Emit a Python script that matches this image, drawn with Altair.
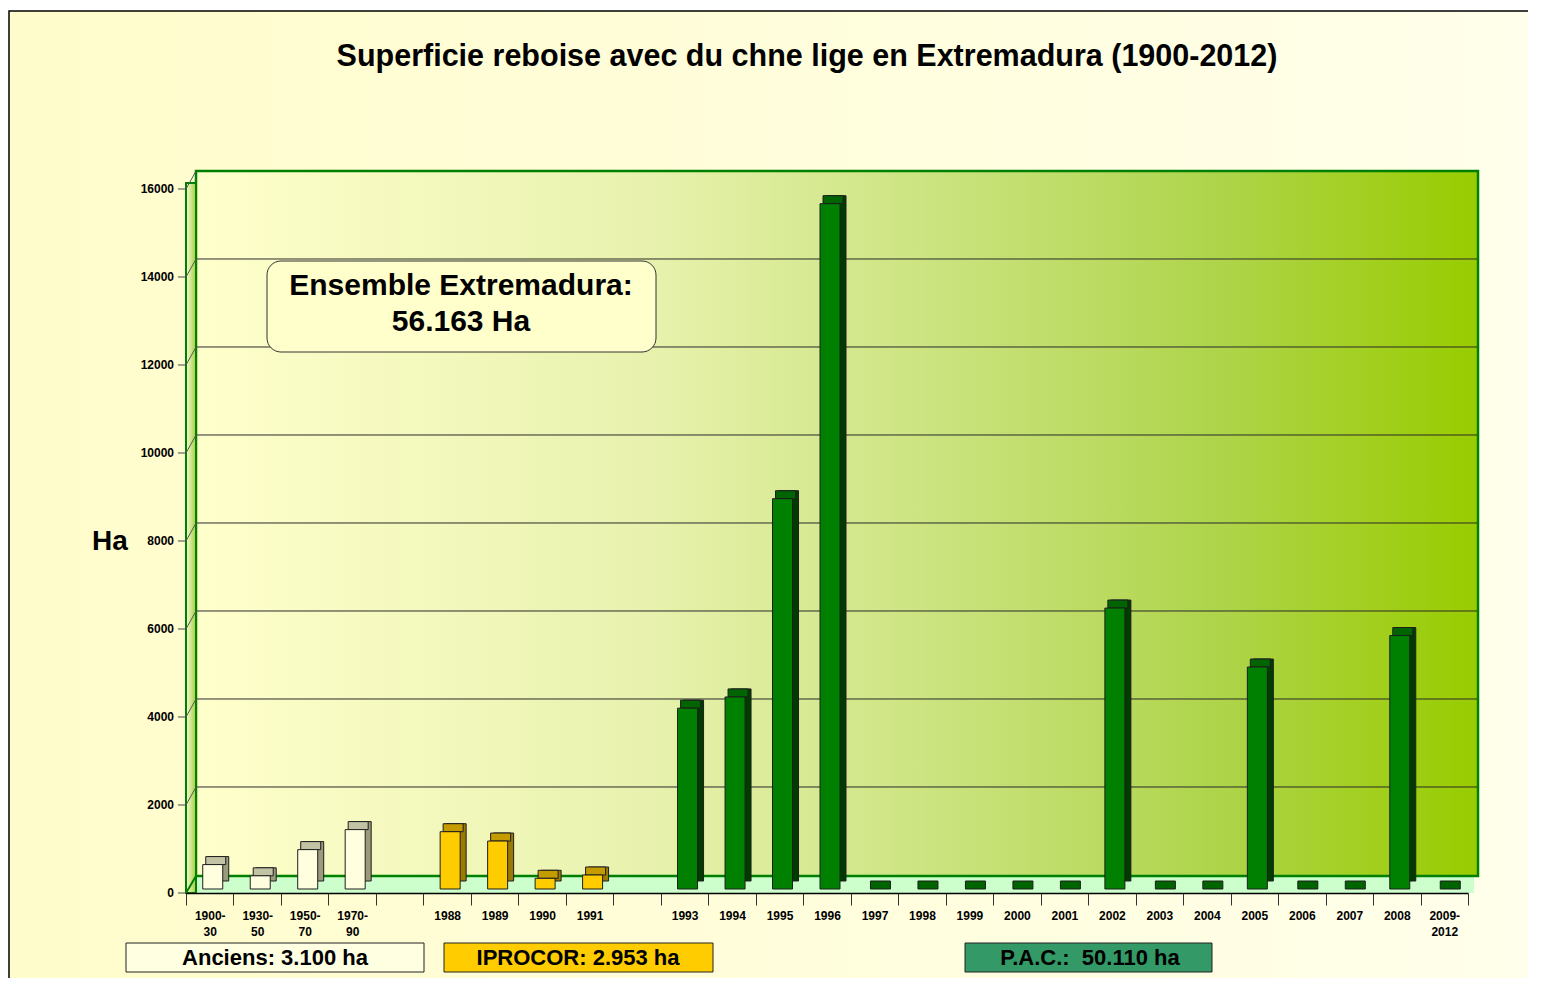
import altair as alt
import pandas as pd

FONT = "Liberation Sans"

# ---------------- data ----------------
categories = ["1900-30", "1930-50", "1950-70", "1970-90", " ",
              "1988", "1989", "1990", "1991", "  ",
              "1993", "1994", "1995", "1996", "1997", "1998", "1999", "2000",
              "2001", "2002", "2003", "2004", "2005", "2006", "2007", "2008",
              "2009-2012"]
values = [555, 300, 895, 1350, None,
          1302, 1090, 243, 318, None,
          4110, 4365, 8870, 15575, 0, 0, 0, 0,
          0, 6385, 0, 0, 5045, 0, 0, 5760,
          0]
groups = ["Anciens"] * 4 + [""] + ["IPROCOR"] * 4 + [""] + ["PAC"] * 17
group_names = ["Anciens", "IPROCOR", "PAC"]
y_ticks = [0, 2000, 4000, 6000, 8000, 10000, 12000, 14000, 16000]
y_title = "Ha"

title_text = "Superficie reboise avec du chne lige en Extremadura (1900-2012)"
note_lines = ["Ensemble Extremadura:", "56.163 Ha"]
legend_texts = ["Anciens: 3.100 ha", "IPROCOR: 2.953 ha", "P.A.C.: \u00a050.110 ha"]

# ---------------- styles ----------------
front_colors = ["#FFFFE0", "#FFCC00", "#008000"]
side_colors = ["#9A9A7C", "#9A7A00", "#003C00"]
top_colors = ["#C2C2A4", "#C49C00", "#006400"]
legend_fills = ["#FFFFE2", "#FFCC00", "#339966"]

df = pd.DataFrame({"cat": categories, "value": values, "group": groups})
bars_df = df[df["group"] != ""].copy()

one = alt.Data(values=[{"k": 1}])

W, H = 1282, 722
YMAX = 16409
yscale = alt.Scale(domain=[0, YMAX], nice=False, zero=True)
xscale = alt.Scale(domain=categories, paddingInner=0, paddingOuter=0)

label_expr = ("indexof(datum.label,'-') > 0 ? "
              "[slice(datum.label,0,indexof(datum.label,'-')+1), "
              "slice(datum.label,indexof(datum.label,'-')+1)] : datum.label")

xaxis = alt.Axis(labelExpr=label_expr, labelAngle=0, labelFont=FONT,
                 labelFontSize=12, labelFontWeight="bold", labelColor="black",
                 labelLineHeight=16, labelPadding=5, tickBand="extent",
                 tickSize=12, tickColor="#333333", domainColor="black",
                 domainWidth=1.5, title=None, grid=False, zindex=2)


def grad(stops, x2=1, y2=0):
    return alt.Gradient(gradient="linear", x1=0, y1=0, x2=x2, y2=y2,
                        stops=[alt.GradientStop(color=c, offset=o) for o, c in stops])


frame = alt.Chart(one).mark_rect(
    fill=grad([(0, "#FFFCCB"), (1, "#FFFFEC")]), stroke="black", strokeWidth=1.5
).encode(x=alt.value(-177), x2=alt.value(1400), y=alt.value(-160), y2=alt.value(900))

floor = alt.Chart(one).mark_rect(fill="#CCFFCC").encode(
    x=alt.value(0), x2=alt.value(1288), y=alt.value(705), y2=alt.value(722))

wall = alt.Chart(one).mark_rect(
    fill=grad([(0, "#FFFFCC"), (0.35, "#E8F2AE"), (0.6, "#C8E27A"),
               (0.8, "#AED44A"), (1, "#99CC00")]),
    stroke="#008000", strokeWidth=2.5
).encode(x=alt.value(10), x2=alt.value(1292), y=alt.value(0), y2=alt.value(705))

left_wall = alt.Chart(one).mark_rect(
    fill=grad([(0, "#F8FCD8"), (1, "#A6CE3C")]), stroke="#008000", strokeWidth=2
).encode(x=alt.value(0), x2=alt.value(10), y=alt.value(12), y2=alt.value(722))

tick_df = pd.DataFrame({"v": y_ticks})

grid = alt.Chart(tick_df[(tick_df.v > 0) & (tick_df.v < 16000)]).mark_rule(
    color="#2A2A2A", strokeWidth=1, yOffset=-18
).encode(x=alt.value(11), x2=alt.value(1291),
         y=alt.Y("v:Q", scale=yscale, axis=None))

diag = alt.Chart(tick_df[tick_df.v > 0]).mark_rule(
    color="#555555", strokeWidth=1, y2Offset=-18
).encode(x=alt.value(0), x2=alt.value(10),
         y=alt.Y("v:Q", scale=yscale, axis=None), y2="v:Q")

# y axis drawn from the tick values through the y scale
y_ticks_marks = alt.Chart(tick_df).mark_rule(color="#444444", strokeWidth=1).encode(
    x=alt.value(-8), x2=alt.value(0), y=alt.Y("v:Q", scale=yscale, axis=None))
y_labels = alt.Chart(tick_df).mark_text(
    font=FONT, fontSize=12, fontWeight="bold", color="black",
    align="right", baseline="middle", dx=-12
).encode(x=alt.value(0), y=alt.Y("v:Q", scale=yscale, axis=None), text="v:Q")
y_title_mark = alt.Chart(one).mark_text(
    text=y_title, font=FONT, fontSize=28, fontWeight="bold", color="black",
    align="center", baseline="middle"
).encode(x=alt.value(-76), y=alt.value(371))

floor_edge = alt.Chart(one).mark_rule(color="#008000", strokeWidth=2).encode(
    x=alt.value(0), x2=alt.value(10), y=alt.value(722), y2=alt.value(705))

X = alt.X("cat:N", scale=xscale, axis=xaxis)

base = alt.Chart(bars_df)

side = base.transform_filter("datum.value > 0").mark_bar(
    width=20, xOffset=9, yOffset=-12, y2Offset=-12, stroke="#1E1E1E", strokeWidth=1
).encode(
    x=X, y=alt.Y("value:Q", scale=yscale, axis=None),
    color=alt.Color("group:N", scale=alt.Scale(domain=group_names, range=side_colors), legend=None))

top = base.mark_bar(
    width=20, xOffset=6, yOffset=-12, y2Offset=-4, stroke="#1E1E1E", strokeWidth=1
).encode(
    x=X, y=alt.Y("value:Q", scale=yscale, axis=None), y2="value:Q",
    color=alt.Color("group:N", scale=alt.Scale(domain=group_names, range=top_colors), legend=None))

front = base.transform_filter("datum.value > 0").mark_bar(
    width=20, xOffset=3, yOffset=-4, y2Offset=-4, stroke="#1E1E1E", strokeWidth=1
).encode(
    x=X, y=alt.Y("value:Q", scale=yscale, axis=None),
    color=alt.Color("group:N", scale=alt.Scale(domain=group_names, range=front_colors), legend=None))

note_box = alt.Chart(one).mark_rect(
    fill="#FFFFCC", stroke="#333333", strokeWidth=1, cornerRadius=14
).encode(x=alt.value(81), x2=alt.value(470), y=alt.value(90), y2=alt.value(181))

note_text = alt.Chart(one).mark_text(
    text=note_lines, font=FONT, fontSize=30, fontWeight="bold", color="black",
    align="center", baseline="middle", lineHeight=36
).encode(x=alt.value(275), y=alt.value(115))

title = alt.Chart(one).mark_text(
    text=title_text, font=FONT, fontSize=30.5, fontWeight="bold", color="black",
    align="center", baseline="middle"
).encode(x=alt.value(621), y=alt.value(-114))

legend_boxes = [(-60, 238, 89), (258, 527, 392), (779, 1026, 904)]
legend_layers = []
for (x1, x2, xc), txt, fill in zip(legend_boxes, legend_texts, legend_fills):
    legend_layers.append(alt.Chart(one).mark_rect(
        fill=fill, stroke="#222222", strokeWidth=1
    ).encode(x=alt.value(x1), x2=alt.value(x2), y=alt.value(772), y2=alt.value(801)))
    legend_layers.append(alt.Chart(one).mark_text(
        text=txt, font=FONT, fontSize=22, fontWeight="bold", color="black",
        align="center", baseline="middle"
    ).encode(x=alt.value(xc), y=alt.value(787)))

chart = alt.layer(
    frame, floor, wall, left_wall, floor_edge, grid, diag,
    y_ticks_marks, y_labels, y_title_mark,
    side, top, front, note_box, note_text, title, *legend_layers
).resolve_scale(
    color="independent"
).properties(
    width=W, height=H,
    autosize=alt.AutoSizeParams(type="none"),
    padding={"left": 178, "top": 163, "right": 60, "bottom": 85},
    background="white"
).configure_view(stroke=None)

chart.save("out.html", embed_options={"renderer": "svg", "actions": False})
